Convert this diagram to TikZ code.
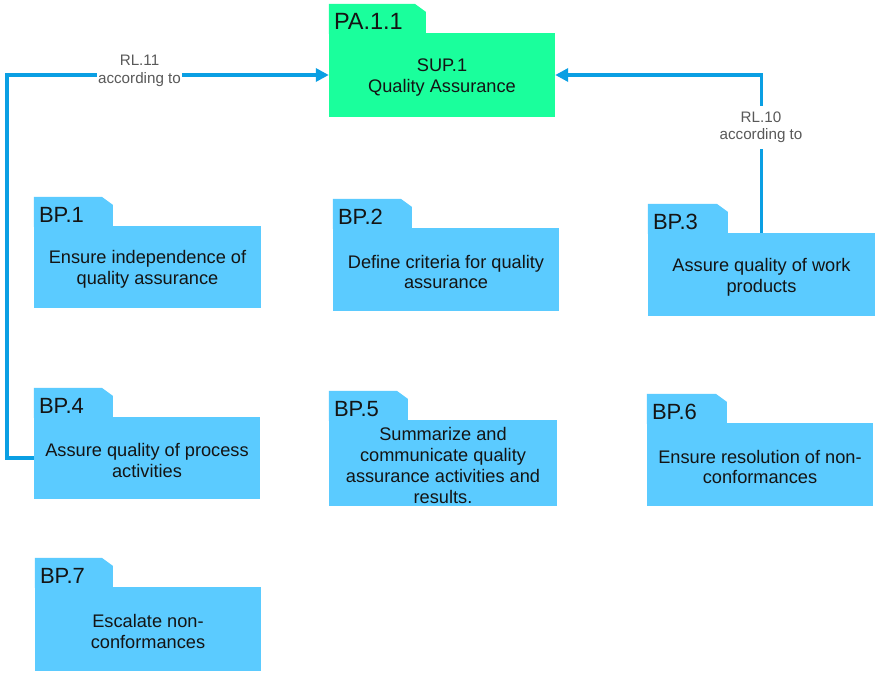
\documentclass[tikz,border=0pt]{standalone}
\usepackage{fontspec}
\setmainfont{Liberation Sans}
\usetikzlibrary{arrows.meta,calc}

\definecolor{pagreen}{HTML}{1AFF9C}
\definecolor{bpblue}{HTML}{5BCBFF}
\definecolor{linkblue}{HTML}{0A9FE3}
\definecolor{labelgray}{HTML}{595959}
\definecolor{inkdark}{HTML}{141414}

% folder: body node, a tab with a clipped corner, a tag on the tab and the text
% #1 name, #2 centre, #3 width, #4 height, #5 tab width, #6 colour, #7 tag, #8 text
\newcommand{\folder}[8]{%
  \node[body=#6, minimum width=#3, minimum height=#4] (#1) at #2 {};
  \fill[#6] (#1.north west) ++(0,1) -- ++(0,-30) -- ++(#5-11,0) -- ++(11,8) -- ++(0,22) -- cycle;
  \node[tag] (#1-tag) at ($(#1.north west)+(5,-3)$) {#7};
  \node[bodytext] (#1-text) at ($(#1.center)+(0,2.5)$) {#8};
}

\begin{document}
\begin{tikzpicture}[x=1pt,y=-1pt,
  body/.style={fill=#1, inner sep=0pt},
  bodytext/.style={inner sep=0pt, align=center, text=inkdark,
    font=\fontsize{18.2}{20.8}\selectfont},
  tag/.style={anchor=base west, inner sep=0pt, text=inkdark,
    font=\fontsize{22}{24}\selectfont},
  link/.style={draw=linkblue, line width=3.5pt,
    -{Triangle[length=13pt,width=13pt]}},
  rellabel/.style={fill=white, align=center, text=labelgray, inner xsep=1pt,
    inner ysep=6pt, font=\fontsize{15.2}{17.5}\selectfont}]
\useasboundingbox (0,0) rectangle (875,672);

\folder{pa}{(442,75)}{226pt}{84pt}{97}{pagreen}{\fontsize{23.5}{25}\selectfont PA.1.1}{SUP.1\\Quality Assurance}
\folder{bp1}{(147.5,267)}{227pt}{82pt}{79}{bpblue}{BP.1}{Ensure independence of\\quality assurance}
\folder{bp2}{(446,269.5)}{226pt}{83pt}{79}{bpblue}{BP.2}{Define criteria for quality\\assurance}
\folder{bp3}{(761.5,274.5)}{227pt}{83pt}{80}{bpblue}{BP.3}{Assure quality of work\\products}
\folder{bp4}{(147,458)}{226pt}{82pt}{79}{bpblue}{BP.4}{Assure quality of process\\activities}
\folder{bp5}{(443,463)}{228pt}{86pt}{79}{bpblue}{BP.5}{Summarize and\\communicate quality\\assurance activities and\\results.}
\folder{bp6}{(760,464.5)}{226pt}{83pt}{80}{bpblue}{BP.6}{Ensure resolution of non-\\conformances}
\folder{bp7}{(148,629)}{226pt}{84pt}{78}{bpblue}{BP.7}{Escalate non-\\conformances}

% relations towards the process attribute
\draw[link] (bp4.west) -- ++(-27,0) |- (pa.west);
\draw[link] (bp3.north) |- (pa.east);

\node[rellabel] (rl11) at (139.5,71) {RL.11\\according to};
\node[rellabel] (rl10) at (761,127.5) {RL.10\\according to};
\end{tikzpicture}
\end{document}
